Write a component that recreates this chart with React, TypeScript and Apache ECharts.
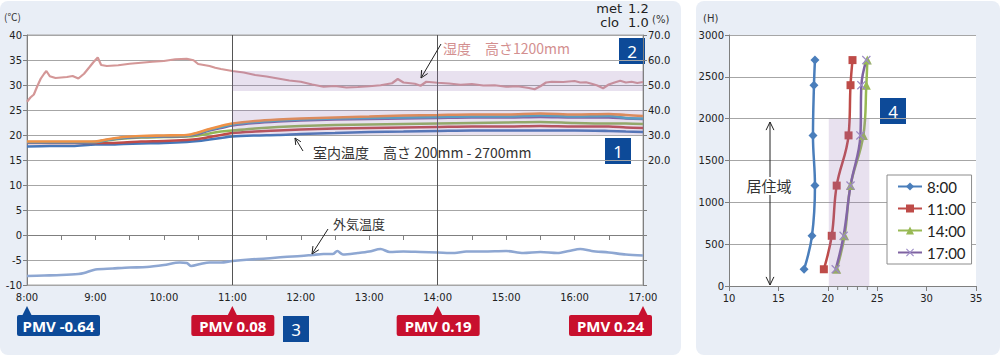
import React, { useEffect, useRef } from "react";
import * as echarts from "echarts";

// ---------- DATA ----------
const timeTicks = ["8:00", "9:00", "10:00", "11:00", "12:00", "13:00", "14:00", "15:00", "16:00", "17:00"];

// minutes after 8:00
const indoorTimes = [0, 20, 40, 60, 70, 85, 100, 120, 140, 150, 160, 170, 180, 200, 220, 240, 270, 300, 330, 360, 390, 420, 450, 480, 510, 525, 540];
const indoor200 = [17.7, 17.8, 17.8, 18.1, 18.1, 18.2, 18.3, 18.4, 18.6, 18.8, 19.1, 19.4, 19.7, 19.9, 20.0, 20.2, 20.4, 20.6, 20.7, 20.8, 20.9, 20.9, 20.9, 20.9, 20.8, 20.7, 20.6];
const indoor600 = [18.4, 18.4, 18.4, 18.4, 18.4, 18.5, 18.7, 18.8, 19.0, 19.2, 19.6, 20.0, 20.4, 20.7, 20.9, 21.1, 21.3, 21.4, 21.5, 21.6, 21.7, 21.7, 21.8, 21.7, 21.7, 21.5, 21.4];
const indoor1200 = [18.5, 18.5, 18.5, 18.6, 18.9, 19.3, 19.5, 19.6, 19.7, 19.9, 20.3, 20.7, 20.9, 21.3, 21.6, 21.8, 22.0, 22.1, 22.2, 22.3, 22.4, 22.5, 22.6, 22.4, 22.3, 22.3, 22.2];
const indoor1800 = [18.5, 18.5, 18.5, 18.6, 19.0, 19.4, 19.6, 19.7, 19.8, 20.2, 20.9, 21.4, 21.9, 22.4, 22.7, 22.9, 23.1, 23.2, 23.3, 23.4, 23.5, 23.5, 23.6, 23.5, 23.5, 23.3, 23.2];
const indoor2400 = [18.6, 18.6, 18.6, 18.6, 19.0, 19.5, 19.7, 19.8, 19.9, 20.4, 21.1, 21.6, 22.1, 22.6, 22.9, 23.1, 23.3, 23.4, 23.5, 23.6, 23.7, 23.7, 23.9, 23.7, 23.8, 23.4, 23.3];
const indoor2700 = [18.7, 18.7, 18.7, 18.7, 19.1, 19.6, 19.8, 19.9, 20.0, 20.5, 21.2, 21.8, 22.3, 22.8, 23.1, 23.3, 23.5, 23.7, 23.9, 24.0, 24.1, 24.1, 24.3, 24.1, 24.2, 24.0, 23.8];

const outdoorTimes = [0, 15, 30, 45, 50, 60, 75, 90, 105, 120, 134, 140, 144, 152, 160, 170, 180, 195, 210, 225, 240, 250, 260, 268, 272, 277, 290, 300, 310, 318, 330, 345, 360, 375, 385, 400, 420, 435, 450, 465, 475, 485, 495, 510, 525, 540];
const outdoorValues = [-8.2, -8.1, -8.0, -7.8, -7.6, -6.9, -6.7, -6.5, -6.4, -6.0, -5.5, -5.6, -6.2, -5.8, -5.5, -5.5, -5.2, -4.9, -4.7, -4.4, -4.2, -4.0, -3.8, -3.8, -3.2, -3.9, -3.6, -3.3, -2.8, -3.4, -3.3, -3.4, -3.5, -3.6, -3.3, -3.3, -3.2, -3.6, -3.4, -3.6, -3.2, -2.8, -3.2, -3.5, -3.9, -4.1];

const humidityTimes = [0, 3, 6, 9, 12, 15, 17, 20, 25, 30, 35, 40, 45, 50, 55, 58, 62, 65, 70, 80, 90, 100, 110, 120, 130, 140, 146, 150, 160, 165, 170, 180, 190, 200, 210, 220, 230, 240, 250, 260, 270, 280, 290, 300, 310, 320, 325, 330, 340, 345, 350, 360, 370, 380, 390, 400, 410, 420, 430, 440, 445, 450, 455, 460, 470, 480, 485, 490, 495, 500, 505, 510, 515, 520, 525, 530, 535, 540];
const humidityValues = [43.3, 45.0, 46.2, 49.5, 52.5, 54.5, 55.6, 53.5, 52.8, 53.0, 53.2, 53.6, 52.6, 54.5, 57.3, 59.0, 61.0, 58.0, 57.6, 57.9, 58.5, 58.9, 59.3, 59.6, 60.3, 60.5, 59.9, 58.4, 57.6, 56.9, 56.4, 55.6, 55.0, 54.0, 53.4, 52.6, 51.8, 51.3, 50.2, 49.3, 49.6, 49.0, 49.2, 49.5, 49.9, 50.7, 52.4, 51.0, 50.5, 49.7, 51.3, 50.9, 50.6, 50.1, 50.4, 49.8, 49.9, 49.3, 49.5, 48.8, 48.3, 49.5, 51.0, 51.3, 51.2, 51.6, 51.0, 51.1, 50.5, 49.8, 48.7, 50.2, 51.0, 51.7, 51.0, 51.3, 50.8, 51.2];

const tempBand = [[180, 540, 20, 25]];
const humidityBand = [[180, 540, 47.6, 55.6]];

const pmvTimes = [0, 180, 360, 540];
const pmvValues = [-0.64, 0.08, 0.19, 0.24];

const heights = [200, 600, 1200, 1800, 2400, 2700];
const profile0800 = [17.6, 18.4, 18.7, 18.5, 18.6, 18.7];
const profile1100 = [19.6, 20.4, 20.9, 22.1, 22.3, 22.5];
const profile1400 = [20.9, 21.7, 22.3, 23.6, 23.9, 24.0];
const profile1700 = [20.8, 21.6, 22.3, 23.3, 23.4, 23.9];
const profileNames = ["8:00", "11:00", "14:00", "17:00"];
const comfortBand = [[20.1, 24.2, 0, 2000]];
const minorTicks = [21, 22, 23, 24];

// ---------- STYLE ----------
const AX = "#7f7f7f";
const GRIDC = "#a6a6a6";
const NUMFONT = "DejaVu Sans";
const JPFONT = "Noto Sans CJK JP";
const BADGE = "#0d4a98";
const PMV_RED = "#c8102e";
const BAND = "rgba(150,120,180,0.22)";

const pair = (xs: number[], ys: number[]) => xs.map((x, i) => [x, ys[i]]);

const bandRender = (_p: any, api: any) => {
  const a = api.coord([api.value(0), api.value(3)]);
  const b = api.coord([api.value(1), api.value(2)]);
  return {
    type: "rect",
    shape: { x: a[0], y: a[1], width: b[0] - a[0], height: b[1] - a[1] },
    style: { fill: BAND },
  };
};

const tickRender = (_p: any, api: any) => {
  const p = api.coord([api.value(0), 0]);
  return {
    type: "line",
    shape: { x1: p[0], y1: p[1], x2: p[0], y2: p[1] + 4 },
    style: { stroke: AX, lineWidth: 1 },
  };
};

function arrow(x1: number, y1: number, x2: number, y2: number, color: string, head = 8) {
  const a = Math.atan2(y2 - y1, x2 - x1);
  const w = 0.45;
  return [
    { type: "line", z: 100, shape: { x1, y1, x2, y2 }, style: { stroke: color, lineWidth: 1 } },
    {
      type: "polyline",
      z: 100,
      shape: {
        points: [
          [x2 - head * Math.cos(a - w), y2 - head * Math.sin(a - w)],
          [x2, y2],
          [x2 - head * Math.cos(a + w), y2 - head * Math.sin(a + w)],
        ],
      },
      style: { stroke: color, lineWidth: 1, fill: null },
    },
  ];
}

function txt(x: number, y: number, text: string, size: number, color: string, family: string, align = "left") {
  return {
    type: "text",
    z: 100,
    x,
    y,
    style: { text, fill: color, fontSize: size, fontFamily: family, align, verticalAlign: "middle" },
  };
}

function badge(x: number, y: number, label: string) {
  return {
    type: "group",
    z: 100,
    x,
    y,
    children: [
      { type: "rect", shape: { x: 0, y: 0, width: 26, height: 26 }, style: { fill: BADGE } },
      {
        type: "text",
        x: 13,
        y: 13.5,
        style: { text: label, fill: "#fff", fontSize: 17, fontFamily: "Noto Sans", align: "center", verticalAlign: "middle" },
      },
    ],
  };
}

const lineSeries = (name: string, data: number[], color: string) => ({
  name,
  type: "line",
  xAxisIndex: 0,
  yAxisIndex: 0,
  data: pair(indoorTimes, data),
  showSymbol: false,
  smooth: 0.3,
  lineStyle: { width: 2.6, color },
  itemStyle: { color },
  z: 2,
});

const profileSeries = (idx: number, data: number[], color: string, symbol: string, symColor: string, size: number) => ({
  name: profileNames[idx],
  type: "line",
  xAxisIndex: 1,
  yAxisIndex: 2,
  data: data.map((t, i) => [t, heights[i]]),
  symbol,
  symbolSize: size,
  showSymbol: true,
  smooth: 0.4,
  lineStyle: { width: 2.5, color },
  itemStyle: { color: symColor },
  z: 3,
});

const XMARK = "path://M1,0 L5,4 L9,0 L10,1 L6,5 L10,9 L9,10 L5,6 L1,10 L0,9 L4,5 L0,1 Z";

const staticGraphics: any[] = [
  txt(4, 16, "(℃)", 10, "#333", JPFONT),
  txt(703, 18, "(H)", 10, "#333", NUMFONT),
  txt(622, 8, "met", 13, "#222", NUMFONT, "right"),
  txt(628, 8, "1.2", 13, "#222", NUMFONT),
  txt(619, 22, "clo", 13, "#222", NUMFONT, "right"),
  txt(628, 22, "1.0", 13, "#222", NUMFONT),
  txt(652, 19, "(%)", 10, "#333", NUMFONT),
  txt(443, 48, "湿度　高さ1200mm", 14, "#d38f8f", JPFONT),
  ...arrow(441, 44, 421, 78, "#222"),
  txt(313, 152, "室内温度　高さ 200mm - 2700mm", 14, "#333", JPFONT),
  ...arrow(303, 151, 295, 138, "#222", 7),
  txt(333, 223, "外気温度", 13, "#333", JPFONT),
  ...arrow(328, 229, 312, 254, "#222"),
  txt(769, 185, "居住域", 15, "#333", JPFONT, "center"),
  ...arrow(770, 177, 770, 122, "#222", 9),
  ...arrow(770, 195, 770, 285, "#222", 9),
  badge(619, 38, "2"),
  badge(605, 138, "1"),
  badge(283, 316, "3"),
  badge(880, 98, "4"),
];

const pmvOffsets = [-10, -41, -41, -74];

const option: any = {
  animation: false,
  textStyle: { fontFamily: NUMFONT },
  grid: [
    { left: 27, top: 35, width: 616, height: 250, show: true, backgroundColor: "#fff", borderColor: GRIDC, borderWidth: 1 },
    { left: 729, top: 35, width: 247, height: 251, show: true, backgroundColor: "#fff", borderWidth: 0 },
  ],
  legend: {
    data: profileNames,
    orient: "vertical",
    left: 887,
    top: 175,
    padding: [3, 6, 3, 10],
    itemGap: 5,
    itemWidth: 24,
    itemHeight: 10,
    backgroundColor: "#fff",
    borderColor: "#8c8c8c",
    borderWidth: 1,
    borderRadius: 0,
    textStyle: { fontSize: 15, fontFamily: "Lato", color: "#222", lineHeight: 17 },
  },
  xAxis: [
    {
      gridIndex: 0,
      type: "value",
      min: 0,
      max: 540,
      interval: 60,
      axisLine: { lineStyle: { color: AX } },
      axisTick: { show: true, length: 5, lineStyle: { color: AX } },
      minorTick: { show: true, splitNumber: 2, length: 5, lineStyle: { color: AX } },
      splitLine: { show: false },
      axisLabel: {
        formatter: (v: number) => timeTicks[Math.round(v / 60)],
        fontSize: 10,
        color: "#222",
        margin: 7,
        fontFamily: NUMFONT,
      },
    },
    {
      gridIndex: 1,
      type: "value",
      min: 10,
      max: 35,
      interval: 5,
      axisLine: { lineStyle: { color: AX } },
      axisTick: { show: true, length: 5, lineStyle: { color: AX } },
      splitLine: { show: false },
      axisLabel: { fontSize: 10, color: "#222", margin: 7, fontFamily: NUMFONT },
    },
  ],
  yAxis: [
    {
      gridIndex: 0,
      type: "value",
      min: -10,
      max: 40,
      interval: 5,
      axisLine: { show: true, lineStyle: { color: AX } },
      axisTick: { show: true, length: 4, lineStyle: { color: AX } },
      splitLine: { lineStyle: { color: GRIDC } },
      axisLabel: { fontSize: 10, color: "#222", margin: 5, fontFamily: NUMFONT },
    },
    {
      gridIndex: 0,
      type: "value",
      position: "right",
      min: -30,
      max: 70,
      interval: 10,
      axisLine: { show: true, lineStyle: { color: AX } },
      axisTick: { show: true, length: 4, lineStyle: { color: AX } },
      splitLine: { show: false },
      axisLabel: {
        fontSize: 10,
        color: "#222",
        margin: 5,
        fontFamily: NUMFONT,
        formatter: (v: number) => (v >= 20 ? v.toFixed(1) : ""),
      },
    },
    {
      gridIndex: 1,
      type: "value",
      min: 0,
      max: 3000,
      interval: 500,
      axisLine: { show: true, lineStyle: { color: AX } },
      axisTick: { show: true, length: 4, lineStyle: { color: AX } },
      splitLine: { lineStyle: { color: GRIDC } },
      axisLabel: { fontSize: 10, color: "#222", margin: 5, fontFamily: NUMFONT, formatter: (v: number) => String(v) },
    },
  ],
  series: [
    lineSeries("室内 200mm", indoor200, "#4576b8"),
    lineSeries("室内 600mm", indoor600, "#bf4b48"),
    lineSeries("室内 1200mm", indoor1200, "#93b656"),
    lineSeries("室内 1800mm", indoor1800, "#7e62a1"),
    lineSeries("室内 2400mm", indoor2400, "#4aa8c6"),
    lineSeries("室内 2700mm", indoor2700, "#ef9146"),
    {
      name: "外気温度",
      type: "line",
      xAxisIndex: 0,
      yAxisIndex: 0,
      data: pair(outdoorTimes, outdoorValues),
      showSymbol: false,
      smooth: 0.3,
      lineStyle: { width: 2.6, color: "#8ea7d2" },
      z: 2,
      markLine: {
        silent: true,
        symbol: "none",
        label: { show: false },
        lineStyle: { color: "#555", width: 1, type: "solid" },
        data: [{ xAxis: 180 }, { xAxis: 360 }],
      },
    },
    {
      name: "湿度",
      type: "line",
      xAxisIndex: 0,
      yAxisIndex: 1,
      data: pair(humidityTimes, humidityValues),
      showSymbol: false,
      lineStyle: { width: 2.2, color: "#d49797" },
      z: 2,
    },
    {
      type: "custom",
      xAxisIndex: 0,
      yAxisIndex: 0,
      data: tempBand,
      encode: { x: [0, 1], y: [2, 3] },
      renderItem: bandRender,
      silent: true,
      z: 5,
    },
    {
      type: "custom",
      xAxisIndex: 0,
      yAxisIndex: 1,
      data: humidityBand,
      encode: { x: [0, 1], y: [2, 3] },
      renderItem: bandRender,
      silent: true,
      z: 5,
    },
    profileSeries(0, profile0800, "#4a7ebb", "diamond", "#4a7ebb", 9),
    profileSeries(1, profile1100, "#be4b48", "rect", "#be4b48", 8),
    profileSeries(2, profile1400, "#98b954", "triangle", "#98b954", 9),
    profileSeries(3, profile1700, "#7e62a1", XMARK, "#9d8cc6", 9),
    {
      type: "custom",
      xAxisIndex: 1,
      yAxisIndex: 2,
      data: comfortBand,
      encode: { x: [0, 1], y: [2, 3] },
      renderItem: bandRender,
      silent: true,
      z: 5,
    },
    {
      type: "custom",
      xAxisIndex: 1,
      yAxisIndex: 2,
      data: minorTicks.map((t) => [t, 0]),
      renderItem: tickRender,
      silent: true,
      z: 5,
    },
  ],
  graphic: { elements: staticGraphics },
};

export default function App() {
  const ref = useRef<HTMLDivElement>(null);
  useEffect(() => {
    const chart = echarts.init(ref.current!, undefined, { renderer: "svg" });
    chart.setOption(option);
    const axisY = chart.convertToPixel({ yAxisIndex: 0 }, -10) as number;
    const pmvGraphics = pmvTimes.map((t, i) => {
      const tx = chart.convertToPixel({ xAxisIndex: 0 }, t) as number;
      const v = pmvValues[i];
      const color = v < 0 ? BADGE : PMV_RED;
      const bx = tx + pmvOffsets[i];
      const by = axisY + 30;
      return {
        type: "group",
        z: 100,
        children: [
          {
            type: "polygon",
            shape: { points: [[tx - 5, by + 1], [tx, axisY + 21], [tx + 5, by + 1]] },
            style: { fill: color },
          },
          { type: "rect", shape: { x: bx, y: by, width: 83, height: 21, r: 2 }, style: { fill: color } },
          {
            type: "text",
            x: bx + 41.5,
            y: by + 11,
            style: {
              text: `PMV ${v.toFixed(2)}`,
              fill: "#fff",
              fontSize: 15,
              fontWeight: "bold",
              fontFamily: "Noto Sans",
              align: "center",
              verticalAlign: "middle",
            },
          },
        ],
      };
    });
    chart.setOption({ graphic: { elements: [...staticGraphics, ...pmvGraphics] } });
    return () => chart.dispose();
  }, []);
  return (
    <div style={{ position: "fixed", left: 0, top: 0, width: 1001, height: 357, background: "#fff" }}>
      <div style={{ position: "absolute", left: 0, top: 1, width: 681, height: 354, background: "#e9eef6", borderRadius: 8 }} />
      <div style={{ position: "absolute", left: 696, top: 1, width: 304, height: 354, background: "#e9eef6", borderRadius: 8 }} />
      <div ref={ref} style={{ position: "absolute", left: 0, top: 0, width: 1001, height: 357 }} />
    </div>
  );
}
